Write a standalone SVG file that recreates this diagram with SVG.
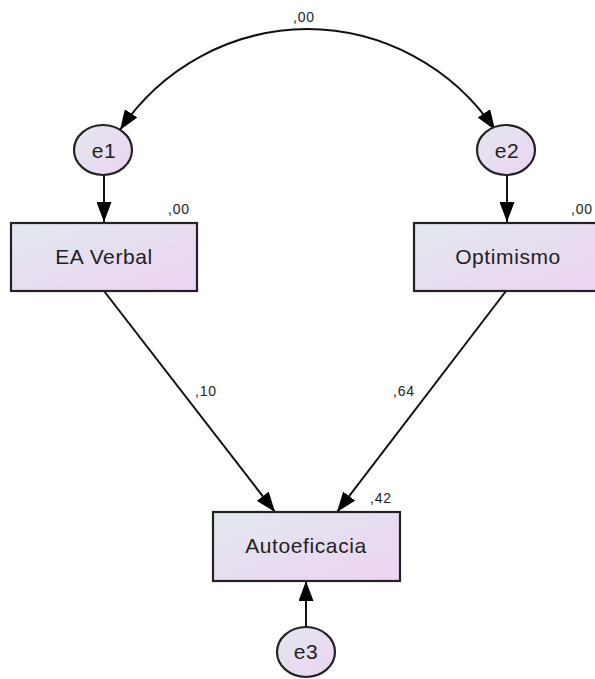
<svg xmlns="http://www.w3.org/2000/svg" width="595" height="679" viewBox="0 0 595 679">
<defs>
<linearGradient id="g" x1="0" y1="0" x2="1" y2="1" gradientUnits="objectBoundingBox">
<stop offset="0" stop-color="#e2e8ee"/>
<stop offset="1" stop-color="#ecd3f2"/>
</linearGradient>
<marker id="ah" viewBox="0 0 20 15" refX="20" refY="7.5" markerWidth="20" markerHeight="15" markerUnits="userSpaceOnUse" orient="auto">
<path d="M0,0 L20,7.5 L0,15 Z" fill="#000"/>
</marker>
<style>
.box{fill:url(#g);stroke:#222;stroke-width:2.2}
.ell{fill:url(#g);stroke:#222;stroke-width:2.2}
.lbl{font-family:"Liberation Sans",Arial,sans-serif;font-size:21px;letter-spacing:0.6px;fill:#222;text-anchor:middle}
.num{font-family:"Liberation Sans",Arial,sans-serif;font-size:14px;letter-spacing:0.8px;fill:#222}
.edge{fill:none;stroke:#111;stroke-width:2;marker-end:url(#ah)}
</style>
</defs>
<rect width="595" height="679" fill="#fff"/>
<g id="connectors">
<path class="edge" d="M307,29 A227,227 0 0 0 120,130"/>
<path class="edge" d="M307,29 A227,227 0 0 1 495,130"/>
<line class="edge" x1="104" y1="175" x2="104" y2="222"/>
<line class="edge" x1="507" y1="175" x2="507" y2="222"/>
<line class="edge" x1="104" y1="291" x2="275" y2="512"/>
<line class="edge" x1="506" y1="291" x2="337" y2="512"/>
<line class="edge" x1="306" y1="627" x2="306" y2="581"/>
<text class="num" x="293" y="22">,00</text>
<text class="num" x="195" y="396">,10</text>
<text class="num" x="393" y="396">,64</text>
</g>
<g id="e1">
<ellipse class="ell" cx="103" cy="150" rx="29" ry="25"/>
<text class="lbl" x="104" y="158">e1</text>
</g>
<g id="e2">
<ellipse class="ell" cx="506" cy="150" rx="29" ry="25"/>
<text class="lbl" x="507" y="158">e2</text>
</g>
<g id="ea_verbal">
<rect class="box" x="11" y="223" width="186" height="68"/>
<text class="lbl" x="104" y="264">EA Verbal</text>
<text class="num" x="168" y="214">,00</text>
</g>
<g id="optimismo">
<rect class="box" x="414" y="223" width="186" height="68"/>
<text class="lbl" x="508" y="264">Optimismo</text>
<text class="num" x="571" y="214">,00</text>
</g>
<g id="autoeficacia">
<rect class="box" x="213" y="512" width="187" height="69"/>
<text class="lbl" x="306" y="553">Autoeficacia</text>
<text class="num" x="370" y="503">,42</text>
</g>
<g id="e3">
<ellipse class="ell" cx="306" cy="652" rx="29" ry="25"/>
<text class="lbl" x="306" y="659">e3</text>
</g>
</svg>
